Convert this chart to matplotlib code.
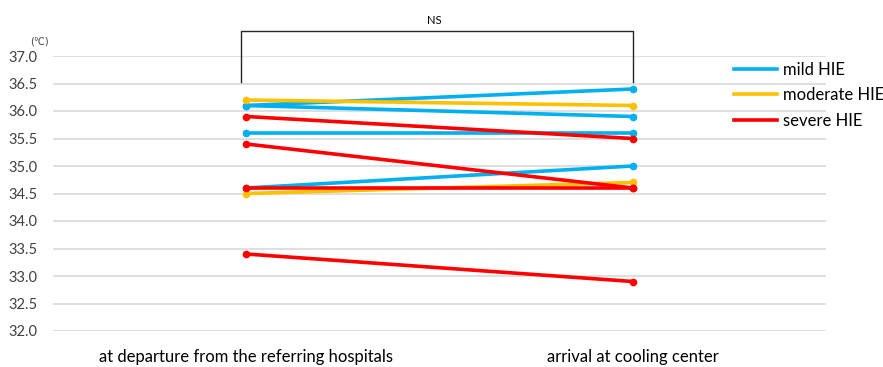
import numpy as np
import matplotlib
matplotlib.use('Agg')
import matplotlib.pyplot as plt
from matplotlib.lines import Line2D

plt.rcParams['font.family'] = ['Lato', 'DejaVu Sans']

# ==== temperatures (deg C) per infant: departure -> arrival
timepoints = ['at departure from the referring hospitals', 'arrival at cooling center']

mild_departure = [36.1, 36.1, 35.6, 34.6]
mild_arrival = [36.4, 35.9, 35.6, 35.0]

moderate_departure = [36.2, 34.5]
moderate_arrival = [36.1, 34.7]

severe_departure = [35.9, 35.4, 34.6, 33.4]
severe_arrival = [35.5, 34.6, 34.6, 32.9]

groups = ['mild HIE', 'moderate HIE', 'severe HIE']
colors = ['#00B0F0', '#FFC000', '#FF0000']

y_ticks = np.arange(32.0, 37.01, 0.5)


fig = plt.figure(figsize=(8.83, 3.67), dpi=100)
ax = fig.add_axes([53 / 883, 1 - 331 / 367, 773 / 883, 275 / 367])

x = np.arange(len(timepoints))
series = [(mild_departure, mild_arrival),
          (moderate_departure, moderate_arrival),
          (severe_departure, severe_arrival)]
for (dep, arr), col in zip(series, colors):
    for a, b in zip(dep, arr):
        ax.plot(x, [a, b], color=col, lw=2.6, marker='o', ms=4.5,
                solid_capstyle='round', zorder=3)

ax.set_xlim(-0.5, 1.5)
ax.set_ylim(32.0, 37.0)
ax.set_yticks(y_ticks)
ax.set_yticklabels([f'{v:.1f}' for v in y_ticks], fontsize=10.5, color='#404040')
ax.set_xticks(x)
ax.set_xticklabels(timepoints, fontsize=12, color='#000000')
ax.tick_params(axis='both', length=0)
ax.tick_params(axis='y', pad=11)
ax.tick_params(axis='x', pad=13)
ax.grid(axis='y', color='#D9D9D9', lw=1.2)
ax.set_axisbelow(True)
for s in ax.spines.values():
    s.set_visible(False)

# unit label above the axis
fig.text(30 / 883, 1 - 42 / 367, '(℃)', fontsize=7, color='#404040',
         va='center', ha='left', family=['DejaVu Sans'])

# significance bracket
bx = [-0.013, -0.013, 1.0, 1.0]
by = [36.53, 37.455, 37.455, 36.53]
ax.plot(bx, by, color='#262626', lw=1, clip_on=False)
ax.text(0.487, 37.65, 'NS', ha='center', va='center', fontsize=8, color='#000000')

handles = [Line2D([], [], color=c, lw=2.6) for c in colors]
fig.legend(handles, groups, loc='upper left', bbox_to_anchor=(734 / 883, 1 - 62 / 367),
           frameon=False, fontsize=12, handlelength=2.55, handletextpad=0.4,
           labelspacing=0.56, borderpad=0, borderaxespad=0)

fig.savefig('out.png', dpi=100)
